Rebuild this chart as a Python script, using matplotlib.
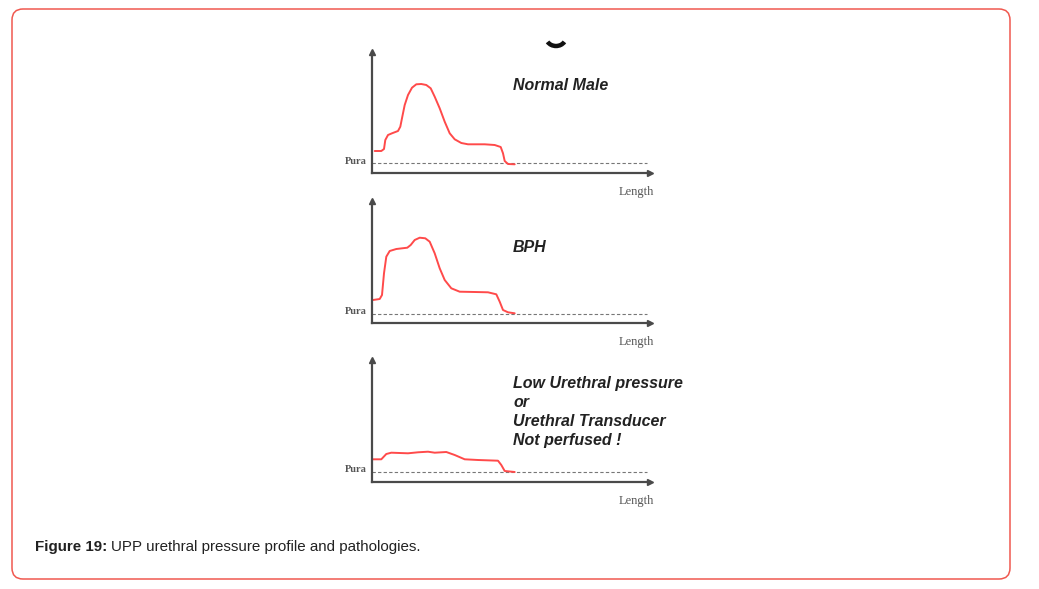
import numpy as np
import matplotlib.pyplot as plt
from matplotlib.patches import FancyBboxPatch, Arc

# Panel data: position along urethra (Length) vs pressure, arbitrary units
normal_x = [2.7, 9.3, 12, 13.3, 16, 20, 26, 28.3, 30.3, 32.7, 36, 40, 44.3, 49.3, 54.3,
            58.7, 62.7, 67.7, 72.7, 77.7, 82.7, 89.3, 96, 112.7, 122.7, 128.7, 131,
            132.7, 136, 142.7]
normal_p = [22.5, 22.5, 24.5, 33.5, 38.5, 40.2, 42.5, 46.8, 56.8, 68.5, 78.5, 85.8, 89.2,
            89.5, 88.5, 85.2, 76.8, 65.2, 51.8, 40.2, 34.2, 30.5, 29.2, 29.2, 28.5, 26.5,
            20.2, 12.5, 9.5, 9.2]
normal_pura = 10.2

bph_x = [1, 7.7, 10, 12, 14.3, 17.7, 24.3, 35.3, 38.7, 42.7, 47.7, 53.3, 57.7, 62.7,
         67.7, 72.7, 79.3, 87.7, 102.7, 116, 124.3, 127.7, 131, 136, 142.7]
bph_p = [23.3, 24.3, 28.3, 50, 66.6, 72.3, 74.3, 75.6, 78.3, 83.3, 85.6, 85, 81.6, 70,
         55, 43.3, 35, 31.6, 31.3, 31, 29, 21.6, 13.3, 11, 10]
bph_pura = 9.6

low_x = [0, 9.3, 14.3, 19.3, 36, 46, 56, 62.7, 74.3, 82.7, 92.7, 106, 126, 129.3,
         132.7, 142.7]
low_p = [23, 23, 28.3, 29.6, 29, 30, 30.6, 29.6, 30.3, 27.3, 23, 22.3, 21.6, 17.3,
         11.3, 10.3]
low_pura = 10.3

panel_labels = ["Normal Male", "BPH",
                "Low Urethral pressure\nor\nUrethral Transducer\nNot perfused !"]
label_y = [88.5, 76, 70.3]

W, H = 1039, 589
fig = plt.figure(figsize=(W / 100, H / 100), dpi=100)

# background frame
bg = fig.add_axes([0, 0, 1, 1])
bg.set_xlim(0, W)
bg.set_ylim(H, 0)
bg.axis("off")
bg.add_patch(FancyBboxPatch((12, 9), 998, 570, boxstyle="round,pad=0,rounding_size=11",
                            fill=False, ec="#f0584f", lw=1.1))
bg.add_patch(Arc((556, 37), 20, 18, theta1=30, theta2=150, color="#111", lw=3.2))
cap = bg.text(35, 547, "Figure 19:", fontsize=10.9, fontweight="bold",
              family="Liberation Sans", va="center", ha="left", color="#222")
bg.annotate("UPP urethral pressure profile and pathologies.", xy=(1, 0.5),
            xycoords=cap, xytext=(2.5, 0), textcoords="offset points", fontsize=10.9,
            family="Liberation Sans", va="center", ha="left", color="#222")

panels = [(normal_x, normal_p, normal_pura, 173.5),
          (bph_x, bph_p, bph_pura, 323.3),
          (low_x, low_p, low_pura, 482.3)]

axis_col = "#4a4a4a"
for (xs, ps, pura, base), lab, ly in zip(panels, panel_labels, label_y):
    ax = fig.add_axes([372 / W, 1 - base / H, 278 / W, 122 / H])
    ax.set_xlim(0, 278)
    ax.set_ylim(0, 122)
    ax.patch.set_alpha(0)
    for s in ["top", "right"]:
        ax.spines[s].set_visible(False)
    for s in ["left", "bottom"]:
        ax.spines[s].set_color(axis_col)
        ax.spines[s].set_linewidth(1.6)
    ax.set_xticks([])
    ax.set_yticks([])
    ax.plot(1, 0, ">", color=axis_col, ms=4.5, transform=ax.transAxes, clip_on=False)
    ax.plot(0, 1, "^", color=axis_col, ms=4.5, transform=ax.transAxes, clip_on=False)

    ax.plot([0, 275], [pura, pura], color="#777", lw=0.8, dashes=(3, 2))
    ax.plot(xs, ps, color="#ff4a4a", lw=1.4, solid_joinstyle="round",
            solid_capstyle="round")

    ax.text(-5, pura + 2, "Pura", fontsize=7.5, family="Liberation Serif", fontweight="bold",
            color="#555", ha="right", va="center")
    ax.text(264, -18.5, "Length", fontsize=9, family="Liberation Serif",
            color="#555", ha="center", va="center", clip_on=False)
    ax.text(141, ly, lab, fontsize=11.5, family="Liberation Sans", fontweight="bold",
            fontstyle="italic", color="#222", ha="left", va="center", linespacing=1.34,
            clip_on=False)

fig.savefig("out.png", dpi=100)
